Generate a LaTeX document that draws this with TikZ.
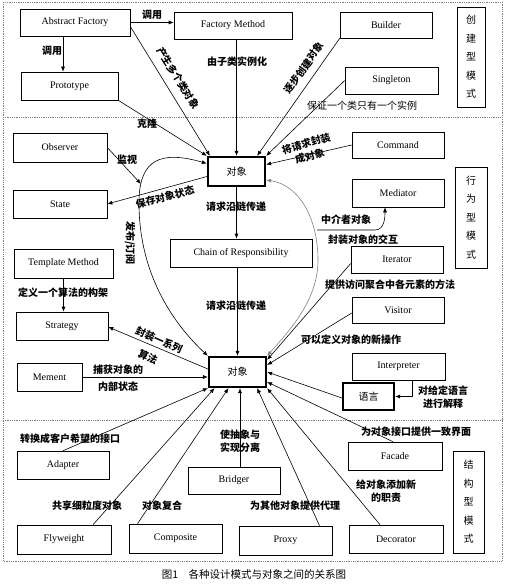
\documentclass[tikz,border=0pt]{standalone}
\usepackage{fontspec}
\setmainfont{Liberation Serif}
\newfontfamily\cjk{Noto Sans CJK SC}
\usetikzlibrary{arrows.meta}

\begin{document}
\begin{tikzpicture}[
  x=1pt,y=-1pt,
  box/.style={draw,line width=0.6pt,inner sep=0pt,minimum height=27pt,font=\fontsize{10}{12}\selectfont},
  objbox/.style={box,line width=2.2pt,font=\cjk\fontsize{10}{12}\selectfont},
  kind/.style={draw,line width=0.6pt,inner sep=0pt,align=center,font=\cjk\fontsize{10}{18.5}\selectfont},
  lbl/.style={inner sep=0pt,align=center,font=\cjk\bfseries\fontsize{10}{13}\selectfont},
  arrow/.style={-{Latex[length=5pt,width=4pt]},line width=0.6pt},
  dbl/.style={{Latex[length=5pt,width=4pt]}-{Latex[length=5pt,width=4pt]},line width=0.6pt},
  frame/.style={densely dotted,gray,line width=0.8pt}
]
\useasboundingbox (0,0) rectangle (505,585);

% Frame and the three sections
\draw[frame] (3,2) rectangle (502,561);
\draw[frame] (3,117) -- (502,117);
\draw[frame] (3,420) -- (502,420);

% Creational patterns
\node[box,minimum width=110pt] (af) at (75,22.5) {Abstract Factory};
\node[box,minimum width=118pt] (fm) at (233,25.5) {Factory Method};
\node[box,minimum width=92pt,minimum height=26pt] (builder) at (386,25) {Builder};
\node[box,minimum width=93pt] (singleton) at (391.5,80.5) {Singleton};
\node[box,minimum width=97pt,minimum height=28pt] (proto) at (69.5,86) {Prototype};
\node[kind,minimum width=28pt,minimum height=100pt] (cx) at (471,57) {创\\建\\型\\模\\式};

% Behavioural patterns
\node[box,minimum width=94pt,minimum height=29pt] (observer) at (60,147.5) {Observer};
\node[box,minimum width=94pt,minimum height=28pt] (state) at (60,204) {State};
\node[objbox,minimum width=57pt,minimum height=29pt] (obj1) at (236.5,171.5) {对象};
\node[box,minimum width=92pt,minimum height=26pt] (command) at (398,145) {Command};
\node[box,minimum width=92pt,minimum height=28pt] (mediator) at (398,193) {Mediator};
\node[kind,minimum width=32pt,minimum height=101pt] (xw) at (471,217.5) {行\\为\\型\\模\\式};
\node[box,minimum width=142pt,minimum height=28pt] (chain) at (241,253) {Chain of Responsibility};
\node[box,minimum width=99pt,minimum height=29pt] (template) at (63.5,263.5) {Template Method};
\node[box,minimum width=92pt] (iterator) at (397,259.5) {Iterator};
\node[box,minimum width=92pt,minimum height=26pt] (visitor) at (398,310) {Visitor};
\node[box,minimum width=92pt,minimum height=28pt] (strategy) at (62,326) {Strategy};
\node[box,minimum width=93pt] (interpreter) at (398.5,366.5) {Interpreter};
\node[box,minimum width=65pt,minimum height=28pt] (mement) at (49.5,377) {Mement};
\node[objbox,minimum width=57pt,minimum height=30pt] (obj2) at (237.5,372) {对象};
\node[objbox,minimum width=51pt] (lang) at (368.5,396.5) {语言};

% Structural patterns
\node[box,minimum width=92pt,minimum height=28pt] (adapter) at (63,465) {Adapter};
\node[box,minimum width=92pt] (bridger) at (234,480.5) {Bridger};
\node[box,minimum width=94pt,minimum height=28pt] (facade) at (395,456) {Facade};
\node[kind,minimum width=31pt,minimum height=102pt] (jg) at (468.5,502) {结\\构\\型\\模\\式};
\node[box,minimum width=94pt,minimum height=29pt] (flyweight) at (64,539.5) {Flyweight};
\node[box,minimum width=93pt,minimum height=29pt] (composite) at (175.5,538.5) {Composite};
\node[box,minimum width=93pt,minimum height=29pt] (proxy) at (285.5,540.5) {Proxy};
\node[box,minimum width=94pt,minimum height=28pt] (decorator) at (396,539) {Decorator};

% Connectors, creational
\draw[arrow] (af.east) -- (af.east -| fm.west);
\draw[arrow] ([xshift=-12pt]af.south) -- ([xshift=-12pt]af.south |- proto.north);
\draw[arrow] ([yshift=-4pt]af.east) -- ([xshift=3pt]obj1.north west);
\draw[arrow] (obj1.north |- fm.south) -- (obj1.north);
\draw[arrow] (builder.south west) -- ([xshift=-9pt]obj1.north east);
\draw[arrow] (singleton.west) -- (obj1.north east);
\draw[arrow] (proto.south east) -- (obj1.north west);

% Connectors, behavioural
\coordinate (ps) at (141,184);
\coordinate (mc) at (317,230);
\draw[dbl] ([yshift=8pt]obj1.west) .. controls (160,150) and (140,160) .. (139,200)
  .. controls (138,280) and (180,330) .. (obj2.north west);
\draw[dbl,gray] ([yshift=-8.5pt]obj1.east) .. controls (300,185) and (318,220) .. (318,260)
  .. controls (318,300) and (290,330) .. (obj2.north east);
\draw[arrow] (observer.east) -- (ps);
\draw[arrow] ([yshift=-5pt]obj1.west) -- (state.east);
\draw[arrow] (command.west) -- ([yshift=7pt]obj1.east);
\draw[arrow] (obj1.south) -- (obj1.south |- chain.north);
\draw[arrow] (chain.south -| obj2.north) -- (obj2.north);
\draw[arrow] (mc) -- ++(58,0) to[out=0,in=-90] ([xshift=-13pt]mediator.south);
\draw[arrow] ([yshift=-4pt]iterator.west) -- ([yshift=-4pt]obj2.north east);
\draw[arrow] ([yshift=-3pt]visitor.west) -- ([yshift=7pt]obj2.east);
\draw[arrow] ([yshift=-1.5pt]lang.west) -- (obj2.east);
\draw[arrow] ([xshift=14pt]interpreter.south) |- (lang.east);
\draw[arrow] (template.south) -- (template.south |- strategy.north);
\draw[arrow] ([yshift=3pt]obj2.west) -- ([yshift=-1pt]strategy.east);
\draw[arrow] (mement.east) -- (mement.east -| obj2.west);

% Connectors, structural
\draw[arrow] (adapter.north) -- (obj2.south west);
\draw[arrow] ([xshift=29pt]flyweight.north) -- ([xshift=-23pt]obj2.south);
\draw[arrow] ([xshift=-38pt]composite.north) -- ([xshift=-9pt]obj2.south);
\draw[arrow] ([xshift=2.5pt]obj2.south |- bridger.north) -- ([xshift=2.5pt]obj2.south);
\draw[arrow] ([xshift=34pt]proxy.north) -- ([xshift=-10pt]obj2.south east);
\draw[arrow] ([xshift=-16pt]decorator.north) -- (obj2.south east);
\draw[arrow] ([xshift=-2pt]facade.north) -- ([yshift=-10pt]obj2.east);

% Labels
\node[lbl] (l-call1) at (152,15) {调用};
\node[lbl] (l-call2) at (52,51) {调用};
\node[lbl,rotate=-58] (l-many) at (178,78) {产生多个类对象};
\node[lbl] (l-sub) at (237,62) {由子类实例化};
\node[lbl,rotate=55] (l-step) at (304,68) {逐步创建对象};
\node[lbl,font=\cjk\fontsize{10}{13}\selectfont] (l-one) at (362,106) {保证一个类只有一个实例};
\node[lbl] (l-clone) at (147,124) {克隆};
\node[lbl] (l-watch) at (127,160) {监视};
\node[lbl,rotate=14] (l-save) at (165,197) {保存对象状态};
\node[lbl,rotate=-90] (l-pub) at (130,243) {发布/订阅};
\node[lbl] (l-chain1) at (236,207) {请求沿链传递};
\node[lbl] (l-chain2) at (236,306) {请求沿链传递};
\node[lbl,rotate=16] (l-cmd) at (308,150) {将请求封装\\成对象};
\node[lbl] (l-med1) at (346,220) {中介者对象};
\node[lbl] (l-med2) at (363,240) {封装对象的交互};
\node[lbl] (l-iter) at (390,285) {提供访问聚合中各元素的方法};
\node[lbl] (l-tpl) at (63,293) {定义一个算法的构架};
\node[lbl] (l-visit) at (351,340) {可以定义对象的新操作};
\node[lbl,rotate=-24] (l-alg1) at (159,340) {封装一系列};
\node[lbl,rotate=-24] (l-alg2) at (148,357) {算法};
\node[lbl,font=\cjk\bfseries\fontsize{10}{17}\selectfont] (l-memo) at (118,378.5) {捕获对象的\\内部状态};
\node[lbl] (l-interp) at (443,397) {对给定语言\\进行解释};
\node[lbl] (l-adapt) at (70,439) {转换成客户希望的接口};
\node[lbl,align=left] (l-bridge) at (240,441) {使抽象与\\实现分离};
\node[lbl] (l-facade) at (416,432) {为对象接口提供一致界面};
\node[lbl] (l-fly) at (87,506) {共享细粒度对象};
\node[lbl] (l-comp) at (162,506) {对象复合};
\node[lbl] (l-proxy) at (295,506) {为其他对象提供代理};
\node[lbl] (l-deco) at (386,491) {给对象添加新\\的职责};

% Caption
\node[inner sep=0pt,font=\cjk\fontsize{10.5}{12}\selectfont] (caption) at (254,574) {图1\quad 各种设计模式与对象之间的关系图};

\end{tikzpicture}
\end{document}
